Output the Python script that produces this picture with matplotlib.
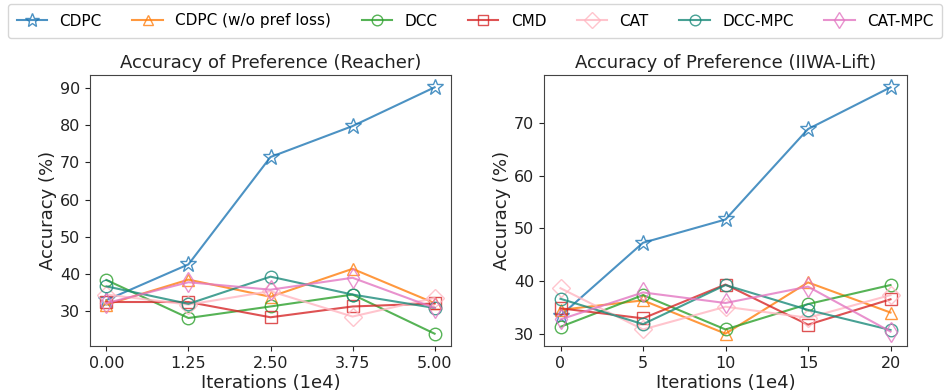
import matplotlib
matplotlib.use("Agg")
import matplotlib.pyplot as plt

# x axes
reacher_x = [0.00, 1.25, 2.50, 3.75, 5.00]
lift_x = [0, 5, 10, 15, 20]

methods = ["CDPC", "CDPC (w/o pref loss)", "DCC", "CMD", "CAT", "DCC-MPC", "CAT-MPC"]

# accuracy (%), Reacher
reacher_cdpc = [33.0, 42.6, 71.4, 79.7, 90.1]
reacher_nopref = [31.8, 38.5, 33.9, 41.4, 32.2]
reacher_dcc = [38.4, 28.2, 31.3, 34.5, 24.0]
reacher_cmd = [32.5, 32.5, 28.4, 31.3, 32.1]
reacher_cat = [34.5, 31.8, 35.4, 28.6, 33.6]
reacher_dcc_mpc = [36.7, 32.0, 39.3, 34.5, 30.9]
reacher_cat_mpc = [32.2, 37.8, 35.8, 39.0, 30.9]

# IIWA-Lift
lift_cdpc = [33.5, 47.3, 51.7, 68.8, 76.7]
lift_nopref = [34.6, 36.4, 30.1, 39.8, 34.1]
lift_dcc = [31.4, 37.4, 30.9, 35.7, 39.3]
lift_cmd = [34.9, 33.0, 39.4, 31.8, 36.6]
lift_cat = [38.7, 30.9, 35.2, 33.1, 37.4]
lift_dcc_mpc = [36.7, 31.9, 39.3, 34.6, 30.8]
lift_cat_mpc = [32.8, 37.9, 35.9, 39.0, 30.5]

colors = ["#1f77b4", "#ff7f0e", "#2ca02c", "#d62728", "#ffb6c1", "#1a8a7a", "#e377c2"]
markers = ["*", "^", "o", "s", "D", "o", "d"]
sizes = [12, 9, 9, 9, 9, 9, 10]

reacher = [reacher_cdpc, reacher_nopref, reacher_dcc, reacher_cmd,
           reacher_cat, reacher_dcc_mpc, reacher_cat_mpc]
lift = [lift_cdpc, lift_nopref, lift_dcc, lift_cmd,
        lift_cat, lift_dcc_mpc, lift_cat_mpc]

fig = plt.figure(figsize=(9.5, 3.9), dpi=100)
ax1 = fig.add_axes([90 / 950, 1 - 346 / 390, 361 / 950, 271 / 390])
ax2 = fig.add_axes([544 / 950, 1 - 346 / 390, 363 / 950, 271 / 390])

handles = []
for ax, xs, data, title, ticklabels in [
        (ax1, reacher_x, reacher, "Accuracy of Preference (Reacher)",
         ["0.00", "1.25", "2.50", "3.75", "5.00"]),
        (ax2, lift_x, lift, "Accuracy of Preference (IIWA-Lift)",
         ["0", "5", "10", "15", "20"])]:
    hs = []
    for name, ys, c, m, ms in zip(methods, data, colors, markers, sizes):
        h, = ax.plot(xs, ys, color=c, marker=m, markersize=ms,
                     markerfacecolor="none", markeredgewidth=1.0,
                     linewidth=1.5, alpha=0.8, label=name)
        hs.append(h)
    handles = hs if not handles else handles
    ax.set_xticks(xs)
    ax.set_xticklabels(ticklabels)
    ax.set_title(title, fontsize=13, color="#222222", pad=5)
    ax.set_xlabel("Iterations (1e4)", fontsize=13, color="#222222", labelpad=2)
    ax.set_ylabel("Accuracy (%)", fontsize=13, color="#222222", labelpad=2)
    ax.tick_params(labelsize=11.5, colors="#222222")
    for s in ax.spines.values():
        s.set_color("#444444")

ax2.set_yticks([30, 40, 50, 60, 70])

fig.legend(handles, methods, loc="center", bbox_to_anchor=(0.5, 1 - 21 / 390),
           ncol=7, fontsize=11, frameon=True, handlelength=2.0,
           columnspacing=2.0, borderpad=0.6, markerscale=0.85)

fig.savefig("out.png", dpi=100)
